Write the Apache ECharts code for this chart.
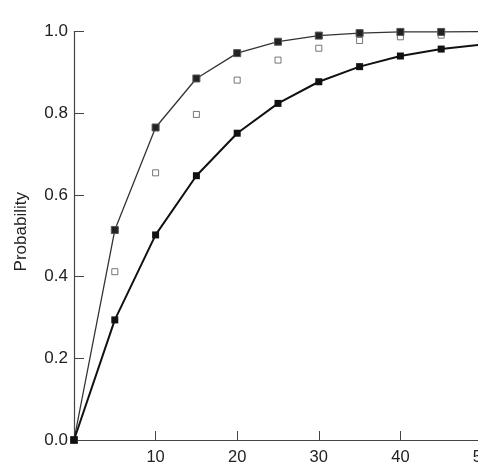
<!DOCTYPE html>
<html><head><meta charset="utf-8">
<script src="https://cdn.jsdelivr.net/npm/echarts@6/dist/echarts.min.js"></script>
<style>html,body{margin:0;padding:0;background:#fff;overflow:hidden}#c{width:478px;height:474px}</style>
</head><body><div id="c"></div>
<script>
const xValues = [0, 5, 10, 15, 20, 25, 30, 35, 40, 45, 50];
const upperLine = [0, 0.514, 0.765, 0.885, 0.947, 0.975, 0.990, 0.996, 0.999, 0.999, 1.0];
const openSquares = [null, 0.412, 0.654, 0.797, 0.881, 0.930, 0.959, 0.978, 0.987, 0.991, null];
const lowerLine = [0, 0.294, 0.502, 0.647, 0.751, 0.824, 0.877, 0.914, 0.940, 0.957, 0.968];
const yTicks = [0, 0.2, 0.4, 0.6, 0.8, 1.0];

const pair = arr => xValues.map((x, i) => [x, arr[i]]).filter(p => p[1] !== null);

const chart = echarts.init(document.getElementById('c'), null, {renderer: 'canvas'});
const font = 'Liberation Sans, Arial, Helvetica, sans-serif';
chart.setOption({
  animation: false,
  backgroundColor: '#fff',
  grid: {left: 74, width: 408, top: 31.5, height: 408.5, containLabel: false, outerBoundsMode: 'none'},
  xAxis: {
    type: 'value', min: 0, max: 50, interval: 10,
    axisLine: {lineStyle: {color: '#444', width: 1.2}},
    axisTick: {inside: true, length: 9, lineStyle: {color: '#444'}},
    axisLabel: {color: '#222', fontSize: 16.5, fontFamily: font, margin: 9,
      formatter: v => v === 0 ? '' : String(v)},
    splitLine: {show: false}
  },
  yAxis: {
    type: 'value', min: 0, max: 1, interval: 0.2,
    name: 'Probability', nameLocation: 'middle', nameGap: 44, nameRotate: 90,
    nameTextStyle: {color: '#222', fontSize: 17, fontFamily: font, padding: [0, 0, 0, 8]},
    axisLine: {show: true, lineStyle: {color: '#444', width: 1.2}},
    axisTick: {show: true, inside: true, length: 10, lineStyle: {color: '#444'}},
    axisLabel: {color: '#222', fontSize: 17, fontFamily: font, margin: 6,
      formatter: v => v.toFixed(1)},
    splitLine: {show: false}
  },
  series: [
    {type: 'line', data: pair(upperLine), symbol: 'rect', symbolSize: 7,
      lineStyle: {color: '#333', width: 1.3}, itemStyle: {color: '#222', borderColor: '#555', borderWidth: 1}, z: 3},
    {type: 'scatter', data: pair(openSquares), symbol: 'rect', symbolSize: 6,
      itemStyle: {color: '#fff', borderColor: '#555', borderWidth: 1}, z: 2},
    {type: 'line', data: pair(lowerLine), symbol: 'rect', symbolSize: 7,
      lineStyle: {color: '#111', width: 2}, itemStyle: {color: '#111'}, z: 4}
  ]
});
</script></body></html>
